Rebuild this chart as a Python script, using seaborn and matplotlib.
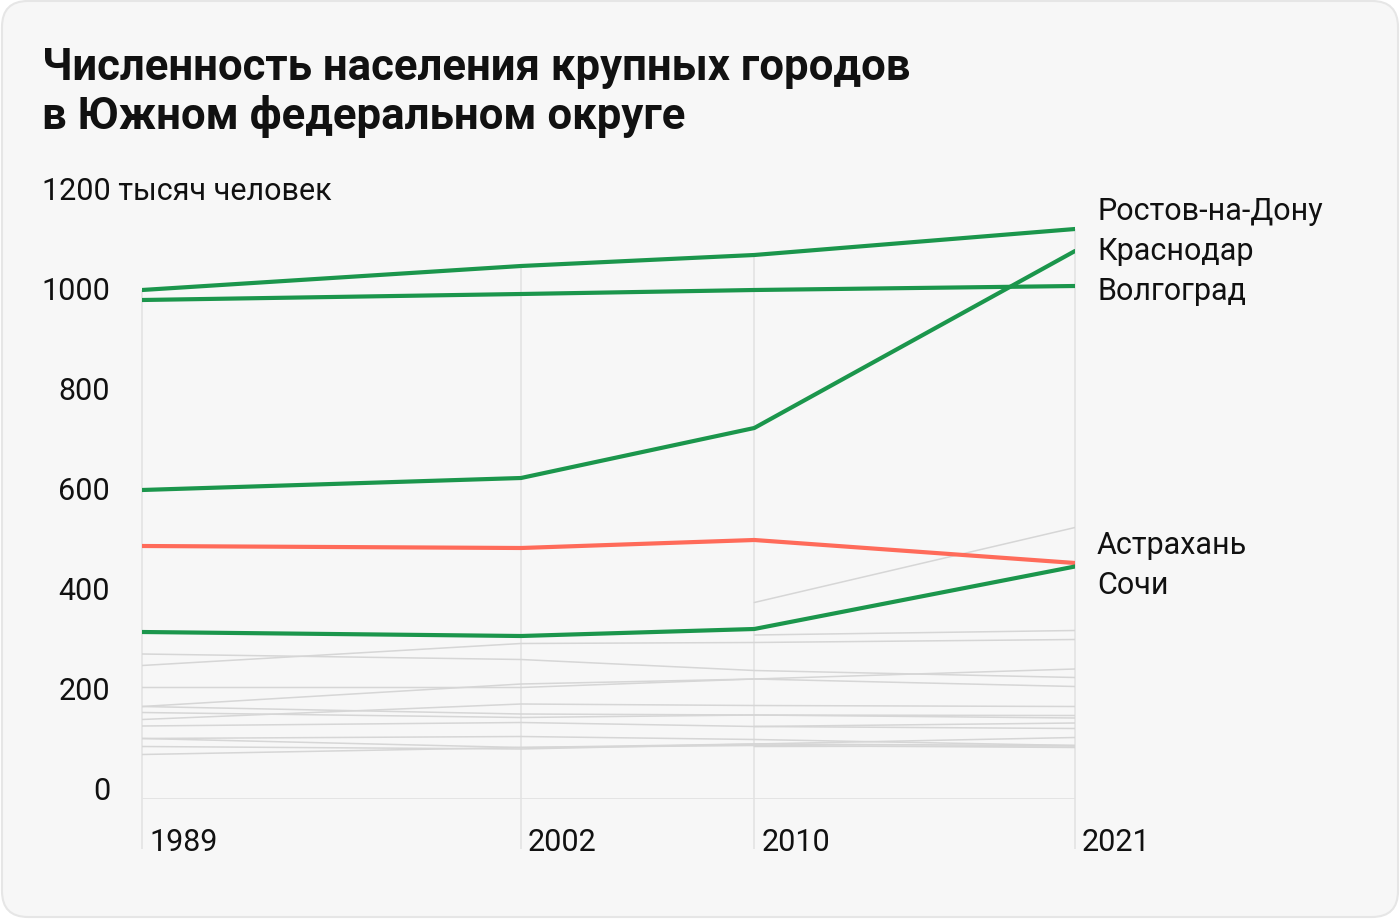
import numpy as np
import pandas as pd
import matplotlib
matplotlib.use("Agg")
import matplotlib.pyplot as plt
import seaborn as sns
from matplotlib.patches import FancyBboxPatch
from matplotlib.transforms import IdentityTransform, ScaledTranslation, blended_transform_factory

# ---------------- data ----------------
years = [1989, 2002, 2010, 2021]
year_labels = ["1989", "2002", "2010", "2021"]

rostov = [1018, 1066, 1088, 1140]
krasnodar = [618, 642, 742, 1096]
volgograd = [998, 1010, 1018, 1026]
astrakhan = [506, 502, 518, 472]
sochi = [334, 326, 340, 465]

nan = np.nan
taganrog = [290, 279, 257, 243]
volzhsky = [267, 311, 313, 319]
shakhty = [223, 223, 240, 225]
novorossiysk = [185, 230, 240, 260]
novocherkassk = [185, 170, 168, 162]
volgodonsk = [173, 163, 168, 167]
armavir = [159, 190, 187, 185]
maikop = [146, 153, 145, 141]
elista = [121, 103, 107, 103]
kamyshin = [121, 125, 119, 107]
novoshakhtinsk = [105, 100, 110, 107]
bataysk = [89, 103, 110, 123]
sevastopol = [nan, nan, 393, 543]
simferopol = [nan, nan, 328, 337]
kerch = [nan, nan, 145, 152]
evpatoria = [nan, nan, 105, 106]

highlight_names = ["Ростов-на-Дону", "Краснодар", "Волгоград", "Астрахань", "Сочи"]
highlight_values = [rostov, krasnodar, volgograd, astrakhan, sochi]
grey_values = [taganrog, volzhsky, shakhty, novorossiysk, novocherkassk, volgodonsk,
               armavir, maikop, elista, kamyshin, novoshakhtinsk, bataysk,
               sevastopol, simferopol, kerch, evpatoria]

y_ticks = [0, 200, 400, 600, 800, 1000]
y_unit_label = "1200 тысяч человек"
title_line1 = "Численность населения крупных городов"
title_line2 = "в Южном федеральном округе"

# label placement (layout only)
label_y = [1176, 1096, 1016, 508, 430]

GREEN = "#1b964c"
RED = "#ff6b5a"
GREY = "#d6d6d6"
GRID = "#e2e2e2"
TEXT = "#111111"
colors = [GREEN, GREEN, GREEN, RED, GREEN]

# ---------------- style ----------------
sns.set_style("white")
plt.rcParams["font.family"] = ["Roboto", "DejaVu Sans"]

W, H = 1400, 920
fig = plt.figure(figsize=(W / 100, H / 100), dpi=100)
fig.patch.set_facecolor("white")
card = FancyBboxPatch((2, 2), W - 4, H - 4,
                      boxstyle="round,pad=0,rounding_size=26",
                      transform=IdentityTransform(),
                      facecolor="#f7f7f7", edgecolor="#e6e6e6", linewidth=1.5,
                      zorder=-10)
fig.patches.append(card)

left, right = 142 / W, 1075 / W
bottom, top = (H - 800) / H, (H - 200) / H
ax = fig.add_axes([left, bottom, right - left, top - bottom])
ax.set_facecolor("none")
ax.set_xlim(1989, 2021)
ax.set_ylim(0, 1200)
for s in ax.spines.values():
    s.set_visible(False)

# vertical grid lines per year (from top value down below the axis)
all_vals = np.array(highlight_values + grey_values, dtype=float)
col_max = np.nanmax(all_vals, axis=0)
ax.vlines(years, ymin=-100, ymax=col_max, color=GRID, linewidth=1.1, zorder=0, clip_on=False)
ax.hlines(0, years[0], years[-1], color=GRID, linewidth=2, zorder=0)

# grey lines
for vals in grey_values:
    df = pd.DataFrame({"year": years, "value": vals}).dropna()
    sns.lineplot(data=df, x="year", y="value", ax=ax, color=GREY, linewidth=1.1,
                 estimator=None, legend=False, zorder=1)

# highlighted lines
for vals, c in zip(highlight_values, colors):
    df = pd.DataFrame({"year": years, "value": vals})
    sns.lineplot(data=df, x="year", y="value", ax=ax, color=c, linewidth=3.0,
                 estimator=None, legend=False, zorder=3)

ax.set_xlabel("")
ax.set_ylabel("")

FS = 22
# y ticks
ax.set_yticks(y_ticks)
ax.set_yticklabels([str(v) for v in y_ticks], fontsize=FS, color=TEXT)
ax.tick_params(axis="y", length=0, pad=23)
for lbl in ax.get_yticklabels():
    lbl.set_va("baseline")

blend = blended_transform_factory(ax.transAxes, ax.transData)
ax.text((42 - 142) / (1075 - 142), 1200, y_unit_label, transform=blend,
        ha="left", va="baseline", fontsize=FS, color=TEXT)

# x ticks
ax.set_xticks(years)
ax.set_xticklabels(year_labels, fontsize=FS, color=TEXT)
ax.tick_params(axis="x", length=0, pad=20)
for lbl in ax.get_xticklabels():
    lbl.set_ha("left")
    lbl.set_transform(lbl.get_transform() + ScaledTranslation(7 / 100, 0, fig.dpi_scale_trans))

# right-side labels
off = ScaledTranslation(22 / 100, 0, fig.dpi_scale_trans)
for name, ly in zip(highlight_names, label_y):
    ax.text(years[-1], ly, name, transform=ax.transData + off,
            ha="left", va="center", fontsize=FS, color=TEXT, clip_on=False)

# title
fig.text(42 / W, 1 - 80 / H, title_line1, ha="left", va="baseline",
         fontsize=31.5, fontweight="bold", color=TEXT)
fig.text(42 / W, 1 - 129 / H, title_line2, ha="left", va="baseline",
         fontsize=31.5, fontweight="bold", color=TEXT)

fig.savefig("out.png", dpi=100, facecolor="white")
